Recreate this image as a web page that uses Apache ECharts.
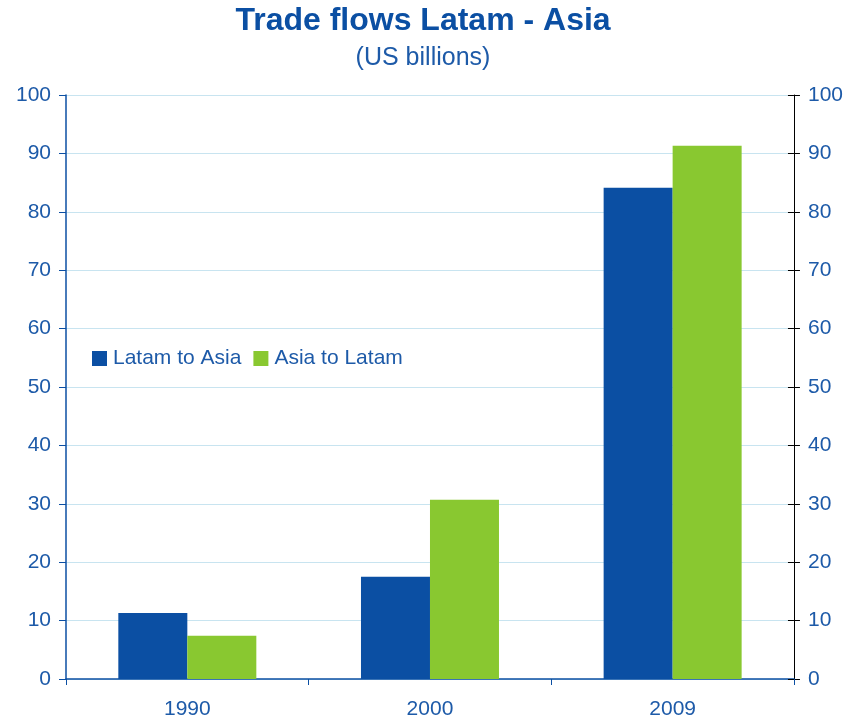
<!DOCTYPE html>
<html>
<head>
<meta charset="utf-8">
<script src="https://cdn.jsdelivr.net/npm/echarts@6/dist/echarts.min.js"></script>
<style>
  html, body { margin: 0; padding: 0; background: #ffffff; }
  #chart { width: 846px; height: 721px; }
</style>
</head>
<body>
<div id="chart"></div>
<script>
// Trade flows between Latin America and Asia, US$ billions
const years = ['1990', '2000', '2009'];
const latamToAsia = [11.3, 17.5, 84.1];
const asiaToLatam = [7.4, 30.7, 91.3];
const seriesNames = ['Latam to Asia', 'Asia to Latam'];

const blue = '#0b4fa3';
const green = '#89c830';
const textBlue = '#1d5aa8';
const gridBlue = '#c8e4f0';
const font = '"Liberation Sans", Arial, sans-serif';

const chart = echarts.init(document.getElementById('chart'), null, { renderer: 'canvas' });

chart.setOption({
  animation: false,
  backgroundColor: '#ffffff',
  title: [
    {
      text: 'Trade flows Latam - Asia',
      left: 'center',
      top: 5,
      padding: 0,
      textStyle: { fontFamily: font, fontSize: 32, fontWeight: 'bold', color: blue }
    },
    {
      text: '(US billions)',
      left: 'center',
      top: 46,
      padding: 0,
      textStyle: { fontFamily: font, fontSize: 25, fontWeight: 'normal', color: textBlue }
    }
  ],
  legend: {
    data: seriesNames,
    left: 87,
    top: 343,
    icon: 'rect',
    itemWidth: 15,
    itemHeight: 15,
    itemGap: 12,
    textStyle: { fontFamily: font, fontSize: 21, color: textBlue, padding: [0, 0, 0, 1] }
  },
  grid: { left: 66, right: 51, top: 95, bottom: 42, containLabel: false },
  xAxis: {
    type: 'category',
    data: years,
    axisLine: { lineStyle: { color: blue, width: 1.5 } },
    axisTick: { show: true, length: 6, lineStyle: { color: blue } },
    axisLabel: { fontFamily: font, fontSize: 21, color: textBlue, margin: 20 }
  },
  yAxis: [
    {
      type: 'value',
      min: 0, max: 100, interval: 10,
      position: 'left',
      axisLine: { show: true, lineStyle: { color: blue, width: 1.5 } },
      axisTick: { show: true, length: 7, lineStyle: { color: blue } },
      axisLabel: { fontFamily: font, fontSize: 21, color: textBlue, margin: 15 },
      splitLine: { show: true, lineStyle: { color: gridBlue, width: 1 } }
    },
    {
      type: 'value',
      min: 0, max: 100, interval: 10,
      position: 'right',
      axisLine: { show: true, lineStyle: { color: '#000000', width: 1 } },
      axisTick: { show: true, length: 6, lineStyle: { color: '#000000' } },
      axisLabel: { fontFamily: font, fontSize: 21, color: textBlue, margin: 14 },
      splitLine: { show: false }
    },
    {
      // inner half of the crossing ticks on the right-hand axis
      type: 'value',
      min: 0, max: 100, interval: 10,
      position: 'right',
      axisLine: { show: false },
      axisTick: { show: true, inside: true, length: 6, lineStyle: { color: '#000000' } },
      axisLabel: { show: false },
      splitLine: { show: false }
    }
  ],
  series: [
    {
      name: seriesNames[0],
      type: 'bar',
      data: latamToAsia,
      barWidth: 69,
      barGap: '0%',
      itemStyle: { color: blue }
    },
    {
      name: seriesNames[1],
      type: 'bar',
      data: asiaToLatam,
      barWidth: 69,
      barGap: '0%',
      itemStyle: { color: green }
    }
  ]
});
</script>
</body>
</html>
